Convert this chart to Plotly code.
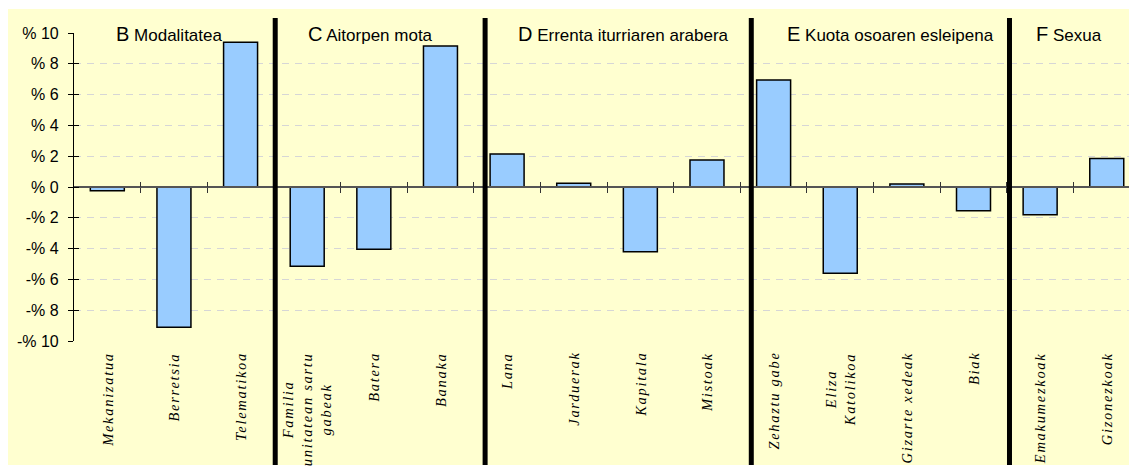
import plotly.graph_objects as go

# ---- data ----
categories = [
    "Mekanizatua", "Berretsia", "Telematikoa",
    "Familia<br>unitatean sartu<br>gabeak", "Batera", "Banaka",
    "Lana", "Jarduerak", "Kapitala", "Mistoak",
    "Zehaztu gabe", "Eliza<br>Katolikoa", "Gizarte xedeak", "Biak",
    "Emakumezkoak", "Gizonezkoak",
]
values = [
    -0.25, -9.1, 9.4,
    -5.15, -4.05, 9.15,
    2.15, 0.25, -4.2, 1.75,
    6.95, -5.6, 0.2, -1.55,
    -1.8, 1.85,
]
group_letters = ["B", "C", "D", "E", "F"]
group_names = ["Modalitatea", "Aitorpen mota", "Errenta iturriaren arabera",
               "Kuota osoaren esleipena", "Sexua"]
y_ticks = [10, 8, 6, 4, 2, 0, -2, -4, -6, -8, -10]
y_tick_text = ["% 10", "% 8", "% 6", "% 4", "% 2", "% 0",
               "-% 2", "-% 4", "-% 6", "-% 8", "-% 10"]

# ---- layout constants (page has an 8px body margin) ----
OFF = 8
W, H = 1137 - OFF, 468 - OFF
ML, MR, MT, MB = 74 - OFF, 0, 33 - OFF, 127
PW, PH = W - ML - MR, H - MT - MB
STEP = 66.63  # px per category
x_range = [-0.5, -0.5 + PW / STEP]
title_x = [0.94, 3.95, 7.75, 11.75, 14.44]
separator_x = [2.52, 5.67, 9.665, 13.54]
boundaries = [i + 0.5 for i in range(len(categories))]


def py(page_px):
    return 1 - (page_px - OFF - MT) / PH


def pxx(page_px):
    return (page_px - OFF - ML) / PW


def spaced(text, ls="1.7px"):
    return "<br>".join(f"<span style='letter-spacing:{ls}'>{part}</span>"
                       for part in text.split("<br>"))


idx = list(range(len(categories)))

fig = go.Figure()
fig.add_trace(go.Bar(
    x=idx, y=values, width=0.51,
    marker=dict(color="#99CCFF", line=dict(color="black", width=1.5)),
    showlegend=False, hoverinfo="skip",
))
# helper invisible traces for overlay axes (crossing tick marks)
fig.add_trace(go.Scatter(x=[None], y=[None], xaxis="x2", yaxis="y",
                         showlegend=False, hoverinfo="skip"))
fig.add_trace(go.Scatter(x=[None], y=[None], xaxis="x", yaxis="y2",
                         showlegend=False, hoverinfo="skip"))

# background
fig.add_shape(type="rect", xref="paper", yref="paper",
              x0=pxx(6), x1=pxx(1132), y0=py(465), y1=py(9),
              fillcolor="#FFFFD0", line=dict(width=0), layer="below")

# separators
for sx in separator_x:
    fig.add_shape(type="line", xref="x", yref="paper",
                  x0=sx, x1=sx, y0=py(465), y1=py(18),
                  line=dict(color="black", width=5), layer="above")

# group titles
for gx, gl, gn in zip(title_x, group_letters, group_names):
    fig.add_annotation(
        x=gx, y=py(34), xref="x", yref="paper",
        text=f"<span style='font-size:20px'>{gl}</span> {gn}",
        showarrow=False, xanchor="center", yanchor="middle",
        font=dict(family="Liberation Sans, Arial", size=17, color="black"),
    )

# category labels
for i, c in enumerate(categories):
    fig.add_annotation(
        x=i, y=py(350), xref="x", yref="paper",
        text=spaced(c), textangle=-90, showarrow=False,
        xanchor="center", yanchor="top", align="center",
        font=dict(family="Liberation Serif, Times New Roman", size=14.5,
                  color="black", style="italic"),
    )

fig.update_layout(
    width=W, height=H, autosize=False,
    margin=dict(l=ML, r=MR, t=MT, b=MB, pad=0),
    paper_bgcolor="white", plot_bgcolor="rgba(0,0,0,0)",
    xaxis=dict(
        range=x_range, domain=[0, 1], anchor="free", position=0.5,
        showgrid=False, zeroline=False,
        showline=True, linecolor="#555555", linewidth=1.5,
        tickmode="array", tickvals=boundaries, showticklabels=False,
        ticks="outside", ticklen=5, tickcolor="#333333", tickwidth=1,
        fixedrange=True,
    ),
    xaxis2=dict(
        range=x_range, domain=[0, 1], overlaying="x", anchor="free", position=0.5,
        showgrid=False, zeroline=False, showline=False,
        tickmode="array", tickvals=boundaries, showticklabels=False,
        ticks="inside", ticklen=5, tickcolor="#333333", tickwidth=1,
        fixedrange=True,
    ),
    yaxis=dict(
        range=[-10, 10], domain=[0, 1], anchor="x",
        tickmode="array", tickvals=y_ticks, ticktext=y_tick_text,
        tickfont=dict(family="Liberation Sans, Arial", size=16, color="black"),
        ticks="outside", ticklen=5, tickcolor="black", ticklabelstandoff=6,
        showline=True, linecolor="black", linewidth=1.2,
        showgrid=True, gridcolor="#D6D6D6", griddash="7px,6px", gridwidth=1,
        zeroline=False, fixedrange=True,
    ),
    yaxis2=dict(
        range=[-10, 10], domain=[0, 1], overlaying="y", anchor="x", side="left",
        tickmode="array", tickvals=y_ticks, showticklabels=False,
        ticks="inside", ticklen=5, tickcolor="black",
        showline=False, showgrid=False, zeroline=False, fixedrange=True,
    ),
)

fig.write_html("out.html")
